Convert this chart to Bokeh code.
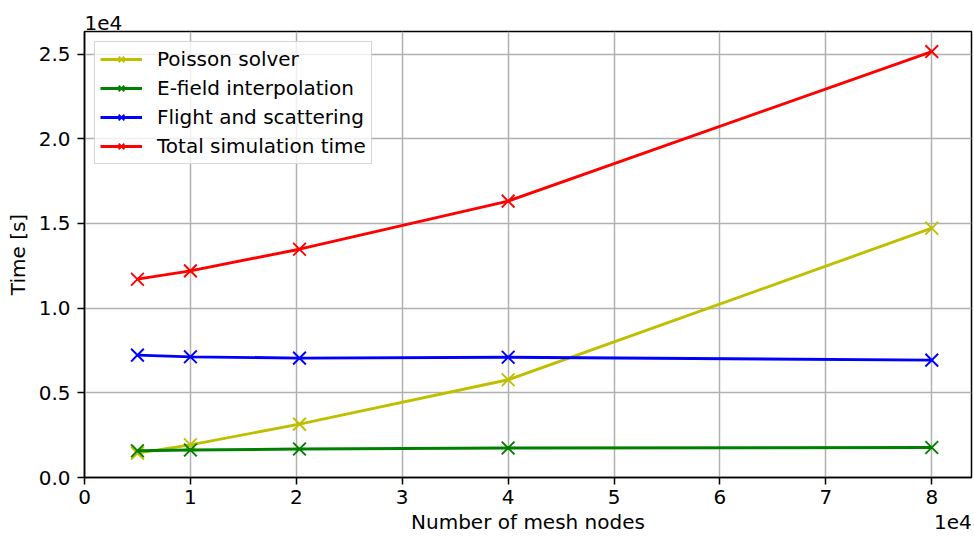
from bokeh.plotting import figure
from bokeh.models import Range1d, FixedTicker, Legend, LinearAxis
from bokeh.embed import file_html
from bokeh.resources import INLINE

# Mesh sizes and per-stage timings (seconds)
mesh_nodes = [5000, 10000, 20300, 40000, 80000]
poisson_solver = [1440, 1930, 3150, 5770, 14720]
efield_interp = [1580, 1620, 1680, 1740, 1770]
flight_scatter = [7225, 7125, 7050, 7100, 6930]
total_time = [11710, 12200, 13480, 16320, 25150]

x_ticks = [0, 10000, 20000, 30000, 40000, 50000, 60000, 70000, 80000]
y_ticks = [0, 5000, 10000, 15000, 20000, 25000]

x_start, x_end = 0, 83750
y_start, y_end = 0, 26335

series = [
    ("Poisson solver", poisson_solver, "#bfbf00"),
    ("E-field interpolation", efield_interp, "#008000"),
    ("Flight and scattering", flight_scatter, "#0000ff"),
    ("Total simulation time", total_time, "#ff0000"),
]

FONT = "DejaVu Sans"
FS = "20px"

p = figure(
    width=974, height=540,
    output_backend="svg", toolbar_location=None,
    x_range=Range1d(x_start, x_end), y_range=Range1d(y_start, y_end),
    min_border_left=84, min_border_right=3,
    min_border_top=31, min_border_bottom=63,
    background_fill_color="white", border_fill_color="white",
)

p.outline_line_color = "black"
p.outline_line_width = 1.5

for ax in (p.xaxis[0], p.yaxis[0]):
    ax.axis_line_width = 1.5
    ax.major_tick_line_width = 1.5
    ax.major_tick_out = 7
    ax.major_tick_in = 0
    ax.minor_tick_out = 0
    ax.minor_tick_in = 0
    ax.major_label_text_font = FONT
    ax.major_label_text_font_size = FS
    ax.major_label_text_color = "black"
    ax.axis_label_text_font = FONT
    ax.axis_label_text_font_size = FS
    ax.axis_label_text_font_style = "normal"
    ax.axis_label_text_color = "black"

p.xaxis.ticker = FixedTicker(ticks=x_ticks)
p.yaxis.ticker = FixedTicker(ticks=y_ticks)
p.xaxis.major_label_overrides = {t: f"{t / 1e4:.0f}" for t in x_ticks}
p.yaxis.major_label_overrides = {t: f"{t / 1e4:.1f}" for t in y_ticks}
p.yaxis.axis_label = "Time [s]"
p.xaxis.major_label_standoff = 5
p.yaxis.major_label_standoff = 7
p.yaxis.axis_label_standoff = 6

# Row under the x tick labels: the axis title centred on the frame and the
# "1e4" multiplier at the right end, both drawn as labels of a bare axis.
x_title_pos = (x_start + x_end) / 2
x_mult_pos = 82000
title_axis = LinearAxis(
    ticker=FixedTicker(ticks=[x_title_pos, x_mult_pos]),
    major_label_overrides={x_title_pos: "Number of mesh nodes",
                           x_mult_pos: "1e4"},
    axis_line_color=None, major_tick_line_color=None,
    minor_tick_line_color=None, major_tick_out=0, major_tick_in=0,
    minor_tick_out=0, minor_tick_in=0,
    major_label_standoff=3,
    major_label_text_font=FONT, major_label_text_font_size=FS,
    major_label_text_color="black",
)
p.add_layout(title_axis, "below")

for g in (p.xgrid[0], p.ygrid[0]):
    g.grid_line_color = "#b0b0b0"
    g.grid_line_width = 1.5

items = []
for name, vals, color in series:
    ln = p.line(mesh_nodes, vals, line_color=color, line_width=2.9)
    mk = p.scatter(mesh_nodes, vals, marker="x", size=18,
                   line_color=color, line_width=1.9)
    items.append((name, [ln, mk]))

legend = Legend(items=items, location="top_left")
legend.label_text_font = FONT
legend.label_text_font_size = FS
legend.label_text_color = "black"
legend.border_line_color = "#cccccc"
legend.border_line_alpha = 0.8
legend.border_line_width = 1.5
legend.background_fill_alpha = 0.8
legend.margin = 10
legend.padding = 5
legend.spacing = 5
legend.label_height = 20
legend.glyph_height = 20
legend.glyph_width = 42
legend.label_standoff = 15
p.add_layout(legend)

# scale multiplier of the y axis, above its top end
p.title.text = "1e4"
p.title.align = "left"
p.title.text_font = FONT
p.title.text_font_size = FS
p.title.text_font_style = "normal"
p.title.text_color = "black"
p.title.standoff = 4
p.title.offset = 0

open("out.html", "w").write(file_html(p, INLINE))
